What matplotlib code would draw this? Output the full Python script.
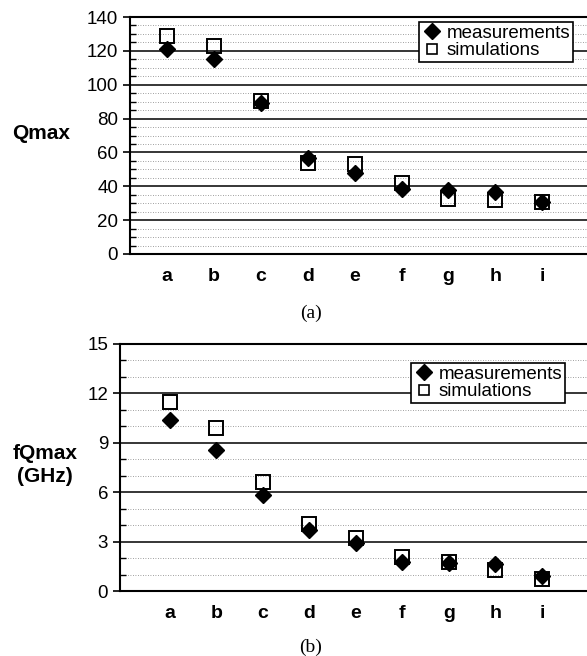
import numpy as np
import matplotlib.pyplot as plt
from matplotlib.ticker import MultipleLocator

plt.rcParams['font.family'] = ['Liberation Sans', 'DejaVu Sans']

samples = ['a', 'b', 'c', 'd', 'e', 'f', 'g', 'h', 'i']
q_meas = [121, 115, 89, 56.5, 48, 38.5, 38, 36.5, 30.5]
q_sim = [128.5, 123, 90.5, 54, 53, 42, 32.5, 32, 31]
f_meas = [10.4, 8.55, 5.85, 3.7, 2.9, 1.75, 1.7, 1.65, 0.9]
f_sim = [11.45, 9.9, 6.6, 4.05, 3.2, 2.05, 1.75, 1.3, 0.75]


def style_axes(ax, ymax, major, minor, xlo, xhi):
    x = np.arange(len(samples))
    ax.set_xlim(xlo, xhi)
    ax.set_ylim(0, ymax)
    ax.yaxis.set_major_locator(MultipleLocator(major))
    ax.yaxis.set_minor_locator(MultipleLocator(minor))
    ax.grid(True, which='major', axis='y', color='black', lw=1.1)
    ax.grid(True, which='minor', axis='y', color='0.5', lw=0.6, ls=(0, (1, 2)))
    ax.set_axisbelow(True)
    ax.set_xticks(x)
    ax.set_xticklabels(samples, fontweight='bold', fontsize=14)
    ax.tick_params(axis='x', length=0, pad=10)
    ax.tick_params(axis='y', which='major', direction='out', length=5, width=1.2, labelsize=13.5)
    ax.tick_params(axis='y', which='minor', direction='in', length=4, width=1)
    for s in ['left', 'bottom', 'top']:
        ax.spines[s].set_linewidth(1.5)
    ax.spines['right'].set_visible(False)


def add_legend(ax, anchor):
    leg = ax.legend(loc='upper right', bbox_to_anchor=anchor, bbox_transform=fig.transFigure,
                    fontsize=13.5, frameon=True, fancybox=False, edgecolor='black', framealpha=1,
                    handletextpad=0.3, handlelength=1.0, labelspacing=0.0, borderpad=0.15,
                    borderaxespad=0)
    leg.get_frame().set_linewidth(1.2)
    leg.legend_handles[0].set_markersize(8)
    leg.legend_handles[1].set_markersize(7)
    leg.legend_handles[1].set_markeredgewidth(1.2)


fig = plt.figure(figsize=(5.87, 6.56), dpi=100)
x = np.arange(len(samples))

ax1 = fig.add_axes([130/587, 1-254/656, 1-130/587, (254-17)/656])
ax1.plot(x, q_meas, 'D', color='black', ms=8, label='measurements', zorder=3)
ax1.plot(x, q_sim, 's', mfc='none', mec='black', mew=1.4, ms=10, label='simulations', zorder=4)
style_axes(ax1, 140, 20, 5, -0.79, 8.955)
ax1.set_ylabel('Qmax', rotation=0, fontsize=15, fontweight='bold', ha='center', va='center')
ax1.yaxis.set_label_coords(-0.195, 0.51)
add_legend(ax1, (573/587, 1-22/656))

ax2 = fig.add_axes([120/587, 1-591/656, 1-120/587, (591-344)/656])
ax2.plot(x, f_meas, 'D', color='black', ms=8, label='measurements', zorder=3)
ax2.plot(x, f_sim, 's', mfc='none', mec='black', mew=1.4, ms=10, label='simulations', zorder=4)
style_axes(ax2, 15, 3, 1, -1.075, 8.97)
ax2.set_ylabel('fQmax\n(GHz)', rotation=0, fontsize=15, fontweight='bold', linespacing=1.3,
               ha='center', va='center')
ax2.yaxis.set_label_coords(-0.16, 0.51)
add_legend(ax2, (565/587, 1-363/656))

fig.text(311/587, 1-313/656, '(a)', ha='center', va='center', fontsize=14, family='Liberation Serif')
fig.text(311/587, 1-647/656, '(b)', ha='center', va='center', fontsize=14, family='Liberation Serif')

fig.savefig('out.png', dpi=100)
